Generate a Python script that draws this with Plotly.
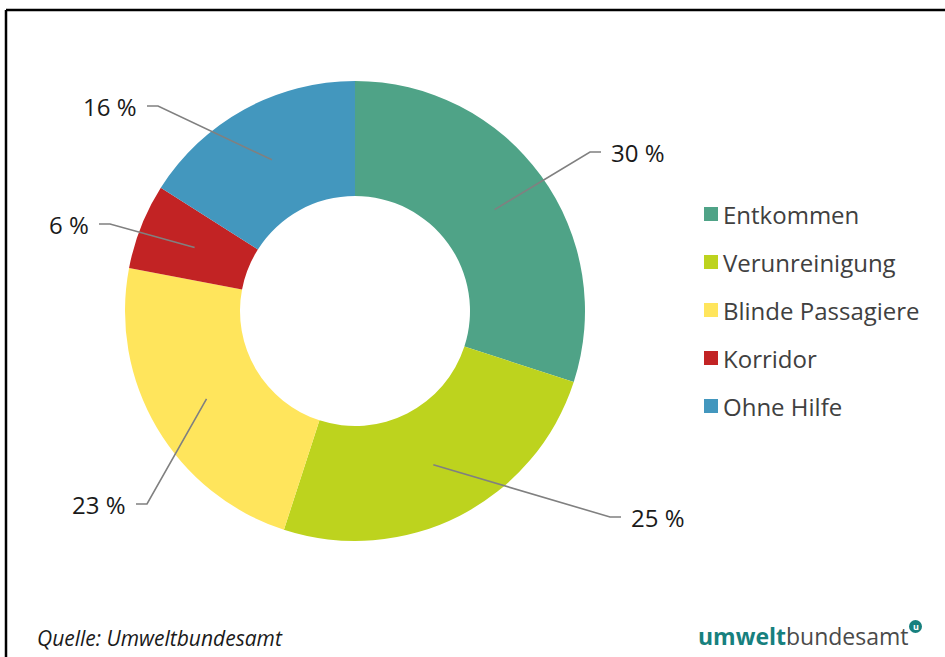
import math
import plotly.graph_objects as go

# ---- data ----
categories = ["Entkommen", "Verunreinigung", "Blinde Passagiere", "Korridor", "Ohne Hilfe"]
values = [30, 25, 23, 6, 16]
colors = ["#4FA387", "#BDD31E", "#FFE55C", "#C22324", "#4397BE"]
label_texts = [f"{v} %" for v in values]

# ---- layout constants (pixels) ----
W, H = 945, 657
CX, CY, R = 355, 311, 230
HOLE = 0.5
# elbow points of the leader lines and horizontal tail direction
elbows = [(590, 152, 1), (610, 517, 1), (147, 504, -1), (110, 224, -1), (158, 106, -1)]

def px(x):
    return x / W

def py(y):
    return 1 - y / H

FONT = "Open Sans"

fig = go.Figure()
fig.add_trace(go.Pie(
    labels=categories, values=values, hole=HOLE, sort=False,
    direction="clockwise", rotation=0,
    marker=dict(colors=colors, line=dict(width=0)),
    textinfo="none", hoverinfo="label+percent", showlegend=False,
    domain=dict(x=[px(CX - R), px(CX + R)], y=[py(CY + R), py(CY - R)]),
))

shapes = []
annotations = []

# frame
shapes.append(dict(type="line", xref="paper", yref="paper", x0=px(6), y0=py(10), x1=px(960), y1=py(10),
                   line=dict(color="black", width=2.5)))
shapes.append(dict(type="line", xref="paper", yref="paper", x0=px(6), y0=py(10), x1=px(6), y1=py(680),
                   line=dict(color="black", width=2.5)))

# leader lines + labels
total = sum(values)
cum = 0
for v, txt, (ex, ey, d) in zip(values, label_texts, elbows):
    mid = (cum + v / 2) / total * 2 * math.pi
    cum += v
    ra = R * (1 + HOLE) / 2
    ax = CX + ra * math.sin(mid)
    ay = CY - ra * math.cos(mid)
    tx = ex + 11 * d
    path = f"M {px(ax)} {py(ay)} L {px(ex)} {py(ey)} L {px(tx)} {py(ey)}"
    shapes.append(dict(type="path", xref="paper", yref="paper", path=path,
                       line=dict(color="#808080", width=1.6)))
    annotations.append(dict(xref="paper", yref="paper", x=px(tx + 8 * d), y=py(ey),
                            text=txt, showarrow=False,
                            xanchor="left" if d > 0 else "right", yanchor="middle",
                            font=dict(family=FONT, size=24, color="#1a1a1a")))

# manual legend
for i, (cat, col) in enumerate(zip(categories, colors)):
    yy = 214 + 48 * i
    shapes.append(dict(type="rect", xref="paper", yref="paper",
                       x0=px(704), x1=px(718), y0=py(yy + 7), y1=py(yy - 7),
                       fillcolor=col, line=dict(width=0)))
    annotations.append(dict(xref="paper", yref="paper", x=px(721), y=py(yy), text=cat,
                            showarrow=False, xanchor="left", yanchor="middle",
                            font=dict(family=FONT, size=24, color="#404040")))

# footer
annotations.append(dict(xref="paper", yref="paper", x=px(35), y=py(638),
                        text="<i>Quelle: Umweltbundesamt</i>", showarrow=False,
                        xanchor="left", yanchor="middle",
                        font=dict(family=FONT, size=21, color="#1a1a1a")))
annotations.append(dict(xref="paper", yref="paper", x=px(911), y=py(636),
                        text="<b><span style='color:#17807E'>umwelt</span></b>bundesamt",
                        showarrow=False, xanchor="right", yanchor="middle",
                        font=dict(family=FONT, size=23, color="#4a4a4a")))
shapes.append(dict(type="circle", xref="paper", yref="paper",
                   x0=px(909), x1=px(922), y0=py(633), y1=py(620),
                   fillcolor="#17807E", line=dict(width=0)))
annotations.append(dict(xref="paper", yref="paper", x=px(915.5), y=py(626.5), text="<b>u</b>",
                        showarrow=False, xanchor="center", yanchor="middle",
                        font=dict(family=FONT, size=9, color="white")))

fig.update_layout(
    width=W, height=H, autosize=False,
    margin=dict(l=0, r=0, t=0, b=0),
    paper_bgcolor="white", plot_bgcolor="white",
    shapes=shapes, annotations=annotations,
)

fig.write_html("out.html")
